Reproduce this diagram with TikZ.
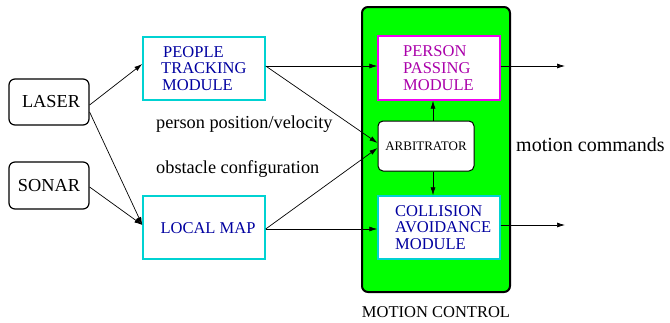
\documentclass[tikz,border=0pt]{standalone}
\usepackage{fontspec}
\setmainfont{Liberation Serif}
\newfontfamily\tms{Liberation Serif}
\usetikzlibrary{arrows.meta}
\definecolor{cyanb}{RGB}{0,210,210}
\definecolor{magb}{RGB}{240,0,240}
\definecolor{magt}{RGB}{170,0,170}
\definecolor{bluet}{RGB}{0,0,160}
\definecolor{greenf}{RGB}{0,255,0}
\tikzset{
  every node/.style={font=\tms},
  sensor/.style={draw, line width=1.2pt, rounded corners=6pt, inner sep=0pt},
  module/.style={draw, line width=1.4pt, fill=white, inner sep=0pt},
  modtext/.style={anchor=west, align=left, inner sep=0pt, font=\tms\fontsize{16.5}{16.7}\selectfont},
  lbl/.style={inner sep=0pt, font=\tms\fontsize{18.3}{20}\selectfont},
  arr/.style={-{Latex[length=8pt,width=5pt]}, line width=0.7pt},
}
\begin{document}
\begin{tikzpicture}[x=1pt,y=-1pt]
\useasboundingbox (0,0) rectangle (670,322);
% sensors
\node[sensor, minimum width=80pt, minimum height=46pt] (laser) at (49,102) {};
\node[lbl] (lasert) at (51,102) {LASER};
\node[sensor, minimum width=80pt, minimum height=47pt] (sonar) at (49,185.5) {};
\node[lbl] (sonart) at (49,186) {SONAR};
% left modules
\node[module, draw=cyanb, minimum width=122pt, minimum height=63pt] (people) at (204,68.5) {};
\node[modtext, text=bluet] (peoplet) at (161,68.5) {\hspace*{2pt}PEOPLE\\TRACKING\\\hspace*{1pt}MODULE};
\node[module, draw=cyanb, minimum width=122pt, minimum height=63pt] (local) at (204,227.5) {};
\node[inner sep=0pt, text=bluet, font=\tms\fontsize{16.5}{16.7}\selectfont] (localtxt) at (208,228) {LOCAL MAP};
% motion control
\node[draw, line width=2pt, fill=greenf, rounded corners=6pt, minimum width=148pt, minimum height=285pt, inner sep=0pt] (motion) at (436,149.5) {};
\node[module, draw=magb, minimum width=122pt, minimum height=64pt] (passing) at (439,68) {};
\node[modtext, text=magt] (passingt) at (403,68) {PERSON\\PASSING\\MODULE};
\node[draw, fill=white, line width=1pt, rounded corners=5pt, minimum width=96pt, minimum height=50pt, inner sep=0pt, font=\tms\fontsize{13}{14}\selectfont] (arb) at (426,146) {ARBITRATOR};
\node[module, draw=cyanb, minimum width=122pt, minimum height=63pt] (coll) at (439,227.5) {};
\node[modtext, text=bluet] (collt) at (395,227.5) {COLLISION\\AVOIDANCE\\MODULE};
% texts
\node[lbl, anchor=west] (ppv) at (156,124) {person position/velocity};
\node[lbl, anchor=west] (obs) at (156,169) {obstacle configuration};
\node[inner sep=0pt, anchor=west, font=\tms\fontsize{20}{22}\selectfont] (mc) at (516,145) {motion commands};
\node[inner sep=0pt, font=\tms\fontsize{16.5}{18}\selectfont] (mctrl) at (436,312) {MOTION CONTROL};
\coordinate (out1) at (565,66);
\coordinate (out2) at (565,225);
% arrows
\draw[arr] ([yshift=-3pt]laser.east) -- ([yshift=4.5pt]people.west);
\draw[arr] ([yshift=-10pt]laser.east) -- ([yshift=2.5pt]local.west);
\draw[arr] ([yshift=-1.5pt]sonar.east) -- ([yshift=2.5pt]local.west);
\draw[arr] ([yshift=2.5pt]people.east) -- ([yshift=2pt]passing.west);
\draw[arr] ([yshift=2.5pt]people.east) -- ([yshift=3pt]arb.west);
\draw[arr] ([yshift=-1.5pt]local.east) -- ([yshift=-2pt]arb.west);
\draw[arr] ([yshift=-1.5pt]local.east) -- ([yshift=-1.5pt]coll.west);
\draw[arr] ([xshift=7pt]arb.north) -- ([xshift=-6pt]passing.south);
\draw[arr] ([xshift=7pt]arb.south) -- ([xshift=-6pt]coll.north);
\draw[arr] ([yshift=2pt]passing.east) -- (out1);
\draw[arr] ([yshift=2.5pt]coll.east) -- (out2);
\end{tikzpicture}
\end{document}
